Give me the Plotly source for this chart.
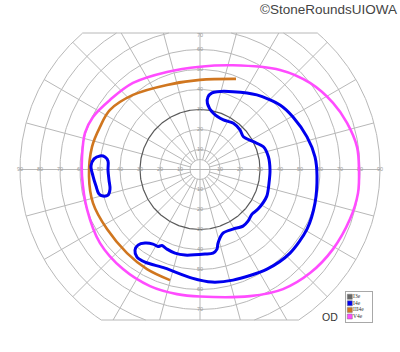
import numpy as np
import plotly.graph_objects as go

# ---------------- data (visual-field degrees, OD) ----------------
# V4e isopter (horizontal / vertical eccentricity, deg)
v4e_x = [0, 16.5, 40, 55, 66.5, 73.5, 78.5, 79.5, 79, 75, 66.5, 55, 41.5, 25, 0,
         -11.5, -25, -38.5, -50, -56.5, -59, -59, -57.5, -53.5, -45, -33.5, -16.5, 0]
v4e_y = [51.4, 52.1, 49.8, 43.3, 33.3, 23.3, 11.3, -0.3, -11.8, -24.8, -39.8, -51.8, -59.8, -63.3, -63.5,
         -62.3, -58.3, -49.8, -36.8, -19.8, -3.3, 6.3, 18.3, 26.3, 34.8, 43.3, 48.8, 51.4]

# III4e isopter (open arc)
iii4e_x = [18, 0, -16.5, -33.5, -45, -50, -54, -55.5, -53.5, -46.5, -36.5, -26.5, -15]
iii4e_y = [45.3, 44.8, 42.3, 37.3, 29.8, 21.3, 11.3, -3.3, -16.8, -29.8, -41.8, -49.8, -55.3]

# I4e isopter, main loop
i4e_x = [4, 6, 8.5, 16.5, 28.4, 40, 46.5, 53.5, 57.5, 58.5, 57.5, 53.5, 45, 33.5, 16.5, 6,
         -4, -17.5, -27.5, -31.5, -32.5, -31, -27.5, -23.5, -21, -19, -16.5, -12.5, -7.5, 2.5,
         6.5, 8.5, 9, 11.5, 16.5, 21.5, 24, 26, 29, 33.4, 34.5, 35, 34.2, 31.7, 26.7, 21.7,
         20, 16.7, 11.7, 6.7, 3.7, 4]
i4e_y = [36.3, 38.3, 38.9, 38.9, 37.3, 32.3, 26.3, 16.3, 6.3, -3.3, -16.8, -29.8, -41.8, -49.8, -55.3, -56.3,
         -54.3, -49.3, -46.3, -43.8, -40.3, -37.8, -36.8, -37.3, -38.5, -38, -39.8, -41.8, -42.8, -42.3,
         -41.8, -39.8, -36.8, -31.8, -29.8, -28.3, -25.8, -22.3, -19.8, -13.3, -6.8, -0.3, 6.4, 11.4, 13.9, 16.4,
         19.8, 23.1, 24.8, 28.1, 33.1, 36.3]

# I4e isopter, nasal island
i4e_island_x = [-50, -47.5, -46, -46, -45.5, -45, -46, -48.5, -50.5, -52, -53.5, -54.5, -53, -50]
i4e_island_y = [6.8, 6.3, 4.3, -0.3, -5.3, -9.8, -12.8, -13.3, -12.3, -8.3, -3.3, 1.8, 5.3, 6.8]

legend_names = ["I3e", "I4e", "III4e", "V4e"]
legend_colors = ["#666666", "#0000ee", "#d0761f", "#ff4cff"]

ring_radii = [5, 10, 20, 30, 40, 50, 60, 70, 80, 90]
spoke_angles = list(range(0, 360, 15))
h_tick_vals = [-90, -80, -70, -60, -50, -40, -30, -20, -10, 10, 20, 30, 40, 50, 60, 70, 80, 90]
v_tick_vals = [70, 60, 50, 40, 30, 20, 10, -10, -20, -30, -40, -50, -60, -70]

# ---------------- chart frame ----------------
R_MAX = 90
Y_TOP = 68.25
Y_BOT = -75.25
GRID = "#b8b8b8"

def ring(r):
    a_top = np.arcsin(min(1.0, Y_TOP / r))
    a_bot = np.arcsin(min(1.0, -Y_BOT / r))
    xs, ys = [], []
    for t0, t1 in [(-a_bot, a_top), (np.pi - a_top, np.pi + a_bot)]:
        t = np.linspace(t0, t1, 200)
        xs += list(r * np.cos(t)) + [None]
        ys += list(r * np.sin(t)) + [None]
    return xs, ys

gx, gy = [], []
for r in ring_radii:
    if r == 30:
        continue
    xs, ys = ring(r)
    gx += xs
    gy += ys
for a in spoke_angles:
    phi = np.deg2rad(a)
    s, c = np.sin(phi), np.cos(phi)
    r0 = 0 if a % 90 == 0 else 5
    if s > 1e-9:
        r1 = min(R_MAX, Y_TOP / s)
    elif s < -1e-9:
        r1 = min(R_MAX, -Y_BOT / -s)
    else:
        r1 = R_MAX
    gx += [r0 * c, r1 * c, None]
    gy += [r0 * s, r1 * s, None]
top_half = np.sqrt(R_MAX ** 2 - Y_TOP ** 2)
bot_half = np.sqrt(R_MAX ** 2 - Y_BOT ** 2)
gx += [-top_half, top_half, None, -bot_half, bot_half, None]
gy += [Y_TOP, Y_TOP, None, Y_BOT, Y_BOT, None]

fig = go.Figure()
fig.add_trace(go.Scatter(x=gx, y=gy, mode="lines", line=dict(color=GRID, width=1),
                         hoverinfo="skip"))
r30x, r30y = ring(30)
fig.add_trace(go.Scatter(x=r30x, y=r30y, mode="lines", line=dict(color="#5a5a5a", width=1.2),
                         hoverinfo="skip"))

# tick labels on the axes
lab_x = h_tick_vals + [0] * len(v_tick_vals)
lab_y = [0] * len(h_tick_vals) + [min(v, Y_TOP - 1.2) for v in v_tick_vals]
lab_t = [str(abs(v)) for v in h_tick_vals] + [str(abs(v)) for v in v_tick_vals]
fig.add_trace(go.Scatter(x=lab_x, y=lab_y, mode="text", text=lab_t,
                         textfont=dict(size=5.5, color="#9a9a9a", family="Liberation Sans"),
                         hoverinfo="skip"))

# isopters
fig.add_trace(go.Scatter(x=v4e_x, y=v4e_y, mode="lines", name="V4e",
                         line=dict(color=legend_colors[3], width=2.6, shape="spline", smoothing=1)))
fig.add_trace(go.Scatter(x=iii4e_x, y=iii4e_y, mode="lines", name="III4e",
                         line=dict(color=legend_colors[2], width=2.6, shape="spline", smoothing=1)))
fig.add_trace(go.Scatter(x=i4e_x, y=i4e_y, mode="lines", name="I4e",
                         line=dict(color=legend_colors[1], width=3, shape="spline", smoothing=0.8)))
fig.add_trace(go.Scatter(x=i4e_island_x, y=i4e_island_y, mode="lines", name="I4e",
                         line=dict(color=legend_colors[1], width=3, shape="spline", smoothing=1)))

# compact legend box drawn on its own small axes
rows = list(range(len(legend_names)))
fig.add_trace(go.Scatter(x=[4.1] * len(rows), y=rows, mode="markers", xaxis="x2", yaxis="y2",
                         marker=dict(symbol="square", size=5, color=legend_colors,
                                     line=dict(color="#777", width=0.5)),
                         hoverinfo="skip"))
fig.add_trace(go.Scatter(x=[7.4] * len(rows), y=rows, mode="text", xaxis="x2", yaxis="y2",
                         text=legend_names, textposition="middle right",
                         textfont=dict(size=5.5, color="#333", family="Liberation Serif"),
                         hoverinfo="skip"))

W, H = 400, 352
fig.update_layout(
    width=W, height=H, autosize=False,
    margin=dict(l=0, r=0, t=0, b=0),
    paper_bgcolor="white", plot_bgcolor="white",
    showlegend=False,
    xaxis=dict(range=[-100, 100], visible=False, domain=[0, 1]),
    yaxis=dict(range=[-91.25, 84.75], visible=False, domain=[0, 1]),
    xaxis2=dict(domain=[345.7 / W, 372.3 / W], range=[0, 26.6], anchor="y2",
                showline=True, mirror=True, linecolor="#a8a8a8", linewidth=1,
                showgrid=False, zeroline=False, showticklabels=False, ticks=""),
    yaxis2=dict(domain=[1 - 322.3 / H, 1 - 291.7 / H], range=[3.88, -0.76], anchor="x2",
                showline=True, mirror=True, linecolor="#a8a8a8", linewidth=1,
                showgrid=False, zeroline=False, showticklabels=False, ticks=""),
    annotations=[
        dict(text="©StoneRoundsUIOWA", x=398.5 / W, y=1 - 9.5 / H, xref="paper", yref="paper",
             xanchor="right", yanchor="middle", showarrow=False,
             font=dict(size=13.5, color="#444", family="Liberation Sans")),
        dict(text="OD", x=330 / W, y=1 - 317.3 / H, xref="paper", yref="paper",
             xanchor="center", yanchor="middle", showarrow=False,
             font=dict(size=10.5, color="#333", family="Liberation Sans")),
    ],
)

fig.write_html("out.html")
